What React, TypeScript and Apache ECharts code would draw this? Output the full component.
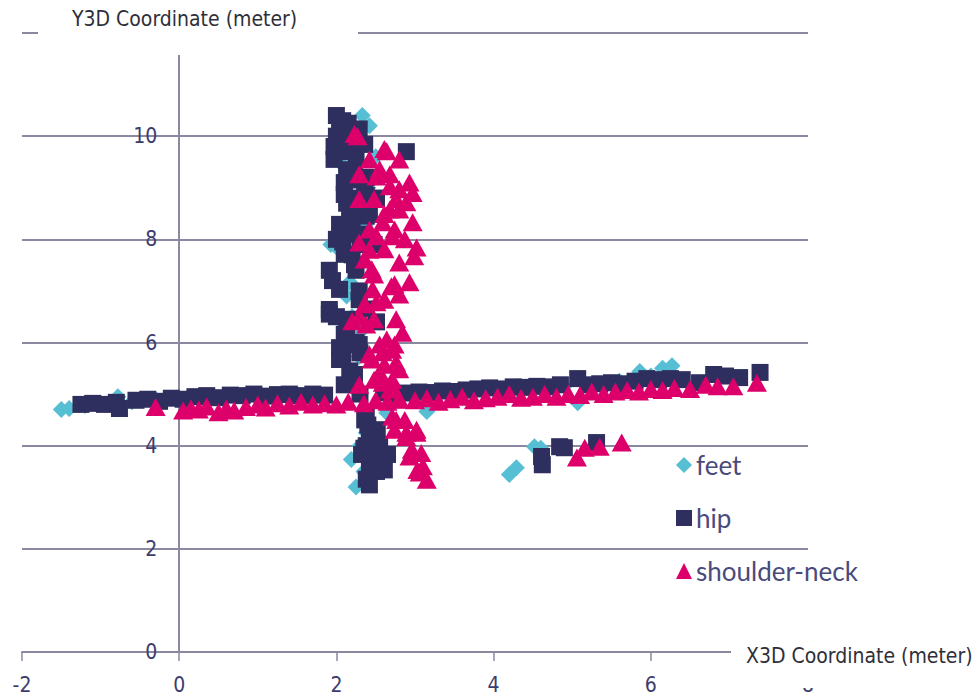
import React, { useEffect, useRef } from "react";
import * as echarts from "echarts";

// ---------- data ----------
const xTicks = [-2, 0, 2, 4, 6, 8];
const yTicks = [0, 2, 4, 6, 8, 10, 12];
const seriesNames = ["feet", "hip", "shoulder-neck"];

const feetLine: number[][] = [
  [-1.5, 4.7], [-1.4, 4.72], [-1.2, 4.78], [-0.95, 4.8], [-0.78, 4.95], [-0.6, 4.85],
  [-0.3, 4.9], [0.0, 4.88], [0.3, 4.95], [0.6, 4.93], [0.9, 4.98], [1.2, 4.95],
  [1.5, 5.0], [1.8, 4.97], [2.7, 5.0], [3.0, 4.98], [3.15, 4.66], [3.4, 5.05],
  [3.7, 5.05], [4.0, 5.1], [4.3, 5.1], [4.6, 5.15], [4.9, 5.15], [5.07, 4.83],
  [5.3, 5.2], [5.6, 5.25], [5.86, 5.44], [6.0, 5.35], [6.15, 5.5], [6.27, 5.55],
];
const feetCluster: number[][] = [
  [2.33, 10.4], [2.42, 10.2], [2.3, 10.0], [2.04, 9.5], [2.5, 9.6], [2.4, 9.0],
  [2.38, 8.3], [2.2, 8.6], [1.93, 7.9], [2.0, 7.85], [2.17, 7.17], [2.13, 6.9],
  [2.2, 6.5], [2.3, 6.2], [2.29, 5.73], [2.17, 5.34], [2.64, 4.64], [2.38, 4.25],
  [2.3, 4.0], [2.19, 3.73], [2.35, 3.5], [2.25, 3.2],
];
const feetOutliers: number[][] = [
  [4.2, 3.44], [4.29, 3.57], [4.52, 3.98], [4.6, 3.95],
];

const hipLine: number[][] = [
  [-1.25, 4.8], [-1.1, 4.82], [-0.95, 4.8], [-0.8, 4.84], [-0.76, 4.72], [-0.55, 4.88],
  [-0.4, 4.9], [-0.25, 4.86], [-0.1, 4.92], [0.05, 4.9], [0.2, 4.95], [0.35, 4.97],
  [0.5, 4.93], [0.65, 4.98], [0.8, 4.97], [0.95, 5.0], [1.1, 4.96], [1.25, 4.99],
  [1.4, 5.0], [1.55, 4.97], [1.7, 5.0], [1.85, 4.98], [2.3, 5.0], [2.6, 5.03],
  [2.75, 5.0], [2.9, 5.02], [3.05, 5.04], [3.2, 5.03], [3.35, 5.06], [3.5, 5.05],
  [3.65, 5.08], [3.8, 5.1], [3.95, 5.12], [4.1, 5.1], [4.25, 5.14], [4.4, 5.13],
  [4.55, 5.15], [4.7, 5.14], [4.85, 5.18], [5.07, 5.3], [5.2, 5.18], [5.35, 5.2],
  [5.5, 5.22], [5.65, 5.2], [5.8, 5.25], [5.95, 5.3], [6.1, 5.28], [6.25, 5.3],
  [6.4, 5.28], [6.62, 5.22], [6.8, 5.38], [6.95, 5.35], [7.13, 5.32], [7.39, 5.42],
];
const hipCluster: number[][] = [
  [2.0, 10.4], [2.08, 10.3], [2.04, 10.2], [2.15, 10.25], [2.25, 10.1], [2.0, 10.0],
  [2.1, 9.9], [1.97, 9.8], [2.04, 9.7], [2.17, 9.75], [2.25, 9.55], [2.13, 9.35],
  [2.38, 9.2], [2.17, 9.15], [2.1, 9.1], [2.13, 8.7], [2.25, 8.8], [2.38, 8.85],
  [2.51, 8.8], [2.3, 8.6], [2.17, 8.45], [2.38, 8.45], [2.2, 8.2], [2.0, 8.0],
  [2.08, 7.95], [2.3, 7.9], [2.2, 7.7], [2.25, 7.4], [1.91, 7.4], [1.95, 7.2],
  [2.29, 7.0], [2.38, 6.65], [1.91, 6.55], [2.0, 6.5], [2.51, 6.4], [2.13, 6.2],
  [2.25, 6.0], [2.04, 5.9], [2.3, 5.8], [2.08, 5.7], [2.17, 5.45], [2.2, 5.2],
  [2.38, 4.55], [2.4, 4.4], [2.42, 4.25], [2.5, 4.05], [2.38, 4.0], [2.35, 3.95],
  [2.45, 3.9], [2.46, 3.8], [2.55, 3.75], [2.45, 3.6], [2.42, 3.55], [2.51, 3.5],
  [2.38, 3.35], [2.89, 9.7],
  [2.1, 10.23], [2.29, 10.14], [2.36, 9.84], [1.97, 9.55], [2.23, 9.26], [2.36, 8.97],
  [2.1, 8.87], [2.17, 8.58], [2.42, 8.49], [2.04, 8.29], [2.29, 8.1], [2.48, 7.9],
  [2.1, 7.71], [2.23, 7.51], [2.04, 7.03], [2.29, 6.83], [1.91, 6.64], [2.17, 6.45],
  [2.1, 6.16], [2.29, 5.96], [2.04, 5.67], [2.23, 5.38], [2.1, 5.18], [2.36, 4.5],
  [2.52, 4.31], [2.32, 3.83], [2.61, 3.53], [2.42, 3.24], [2.65, 3.83], [2.55, 4.02],
];
const hipOutliers: number[][] = [
  [4.61, 3.79], [4.62, 3.63], [4.84, 3.98], [4.9, 3.96], [5.31, 4.06],
];

const shoulderLine: number[][] = [
  [-0.3, 4.75], [0.05, 4.68], [0.15, 4.72], [0.25, 4.7], [0.35, 4.76], [0.5, 4.65],
  [0.6, 4.72], [0.7, 4.68], [0.85, 4.75], [1.0, 4.8], [1.1, 4.74], [1.25, 4.82],
  [1.4, 4.78], [1.55, 4.85], [1.7, 4.8], [1.85, 4.82], [2.0, 4.8], [2.15, 4.85],
  [2.35, 4.82], [2.5, 4.88], [2.65, 4.85], [2.8, 4.9], [3.0, 4.88], [3.15, 4.92],
  [3.3, 4.85], [3.45, 4.9], [3.6, 4.95], [3.75, 4.88], [3.9, 4.92], [4.05, 4.95],
  [4.2, 5.0], [4.35, 4.93], [4.5, 4.95], [4.65, 5.0], [4.8, 4.95], [4.95, 5.0],
  [5.1, 4.98], [5.25, 5.05], [5.4, 5.0], [5.55, 5.05], [5.7, 5.08], [5.85, 5.05],
  [6.0, 5.1], [6.15, 5.08], [6.3, 5.12], [6.5, 5.1], [6.7, 5.18], [6.85, 5.15],
  [7.05, 5.15], [7.35, 5.22],
];
const shoulderCluster: number[][] = [
  [2.27, 10.0], [2.64, 9.71], [2.8, 9.55], [2.29, 9.26], [2.51, 9.22], [2.68, 9.03],
  [2.93, 9.1], [2.76, 8.78], [2.97, 8.9], [2.68, 8.58], [2.8, 8.58], [2.89, 8.72],
  [2.59, 8.33], [2.97, 8.33], [2.71, 8.06], [2.51, 8.06], [2.29, 7.94], [3.02, 7.84],
  [2.42, 7.8], [2.8, 7.55], [2.99, 7.67], [2.45, 7.42], [2.7, 7.09], [2.93, 7.17],
  [2.46, 7.03], [2.51, 6.78], [2.8, 6.93], [2.2, 6.41], [2.29, 6.5], [2.38, 6.35],
  [2.76, 6.45], [2.84, 6.19], [2.64, 6.06], [2.59, 5.81], [2.71, 5.86], [2.45, 5.67],
  [2.76, 5.61], [2.55, 5.42], [2.71, 5.28], [2.59, 5.22], [2.71, 5.15], [2.71, 4.56],
  [2.76, 4.5], [2.89, 4.25], [3.02, 4.31], [2.89, 4.17], [3.02, 4.25], [2.93, 3.79],
  [3.08, 3.86], [3.1, 3.6], [3.06, 3.48], [3.15, 3.34],
  [2.23, 10.04], [2.61, 9.75], [2.42, 9.55], [2.55, 9.36], [2.68, 9.26], [2.8, 8.97],
  [2.48, 8.78], [2.29, 8.78], [2.61, 8.49], [2.74, 8.19], [2.42, 8.19], [2.87, 8.0],
  [2.61, 7.81], [2.36, 7.61], [2.48, 7.32], [2.74, 7.13], [2.61, 6.83], [2.36, 6.74],
  [2.48, 6.45], [2.74, 5.96], [2.55, 5.96], [2.42, 5.77], [2.61, 5.57], [2.8, 5.48],
  [2.68, 5.09], [2.48, 5.28], [2.29, 5.18], [2.8, 4.89], [2.74, 4.31], [2.87, 4.5],
  [2.96, 3.92], [3.03, 3.53],
];
const shoulderOutliers: number[][] = [
  [5.06, 3.77], [5.16, 3.96], [5.35, 3.98], [5.63, 4.06],
];

const feetData = [...feetLine, ...feetCluster, ...feetOutliers];
const hipData = [...hipLine, ...hipCluster, ...hipOutliers];
const shoulderData = [...shoulderLine, ...shoulderCluster, ...shoulderOutliers];

// ---------- styles ----------
const COLORS = ["#56bfd3", "#2f2f5f", "#dd006b"];
const AXIS_COLOR = "#8b89a2";
const LABEL_COLOR = "#3d3c6c";
const NARROW = "'DejaVu Sans Condensed', 'Open Sans', sans-serif";
const ROUND = "Lato, 'Open Sans', sans-serif";

const GRID_LEFT = 22;
const GRID_RIGHT = 169;
const CHART_W = 977;

export default function App() {
  const ref = useRef<HTMLDivElement>(null);

  useEffect(() => {
    if (!ref.current) return;
    const chart = echarts.init(ref.current, undefined, { renderer: "svg" });
    const plotW = CHART_W - GRID_LEFT - GRID_RIGHT;
    const xMin = xTicks[0];
    const xMax = xTicks[xTicks.length - 1];
    const zeroOffset = ((0 - xMin) / (xMax - xMin)) * plotW;
    chart.setOption({
      animation: false,
      backgroundColor: "#ffffff",
      grid: {
        left: GRID_LEFT,
        right: GRID_RIGHT,
        top: 33,
        bottom: 48,
        containLabel: false,
        outerBoundsMode: "none",
      },
      xAxis: {
        type: "value",
        min: xMin,
        max: xMax,
        interval: 2,
        axisLine: { show: true, onZero: false, lineStyle: { color: AXIS_COLOR, width: 2 } },
        axisTick: { show: true, length: 9, lineStyle: { color: AXIS_COLOR, width: 1.5 } },
        axisLabel: { color: LABEL_COLOR, fontSize: 21, fontFamily: NARROW, margin: 22 },
        splitLine: { show: false },
      },
      yAxis: {
        type: "value",
        min: yTicks[0],
        max: yTicks[yTicks.length - 1],
        interval: 2,
        offset: -zeroOffset,
        axisLine: { show: true, onZero: false, lineStyle: { color: AXIS_COLOR, width: 2 } },
        axisTick: { show: false },
        axisLabel: {
          color: LABEL_COLOR,
          fontSize: 21,
          fontFamily: NARROW,
          margin: 22,
          formatter: (v: number) => (v === 12 ? "" : String(v)),
        },
        splitLine: { show: true, lineStyle: { color: AXIS_COLOR, width: 2 } },
      },
      legend: {
        orient: "vertical",
        left: 676,
        top: 452,
        padding: 0,
        itemWidth: 16,
        itemHeight: 16,
        itemGap: 27,
        data: seriesNames,
        textStyle: { color: "#4a4a7c", fontSize: 26, fontFamily: ROUND, padding: [0, 0, 0, -1] },
      },
      series: [
        {
          name: seriesNames[0],
          type: "scatter",
          symbol: "diamond",
          symbolSize: 17,
          itemStyle: { color: COLORS[0], opacity: 1 },
          data: feetData,
        },
        {
          name: seriesNames[1],
          type: "scatter",
          symbol: "rect",
          symbolSize: 17,
          itemStyle: { color: COLORS[1], opacity: 1 },
          data: hipData,
        },
        {
          name: seriesNames[2],
          type: "scatter",
          symbol: "triangle",
          symbolSize: [20, 18],
          itemStyle: { color: COLORS[2], opacity: 1 },
          data: shoulderData,
        },
      ],
      graphic: [
        { type: "rect", z: 100, shape: { x: 38, y: 0, width: 320, height: 55 }, style: { fill: "#ffffff" } },
        {
          type: "text",
          z: 101,
          x: 72,
          y: 19,
          style: {
            text: "Y3D Coordinate (meter)",
            fill: "#2f2f3a",
            fontSize: 21,
            fontFamily: NARROW,
            verticalAlign: "middle",
          },
        },
        { type: "rect", z: 100, shape: { x: 731, y: 636, width: 246, height: 52 }, style: { fill: "#ffffff" } },
        {
          type: "text",
          z: 101,
          x: 746,
          y: 656,
          style: {
            text: "X3D Coordinate (meter)",
            fill: "#2f2f3a",
            fontSize: 21,
            fontFamily: NARROW,
            verticalAlign: "middle",
          },
        },
      ],
    });
    return () => chart.dispose();
  }, []);

  return (
    <div
      ref={ref}
      style={{ position: "fixed", left: 0, top: 0, width: 977, height: 700 }}
    />
  );
}
